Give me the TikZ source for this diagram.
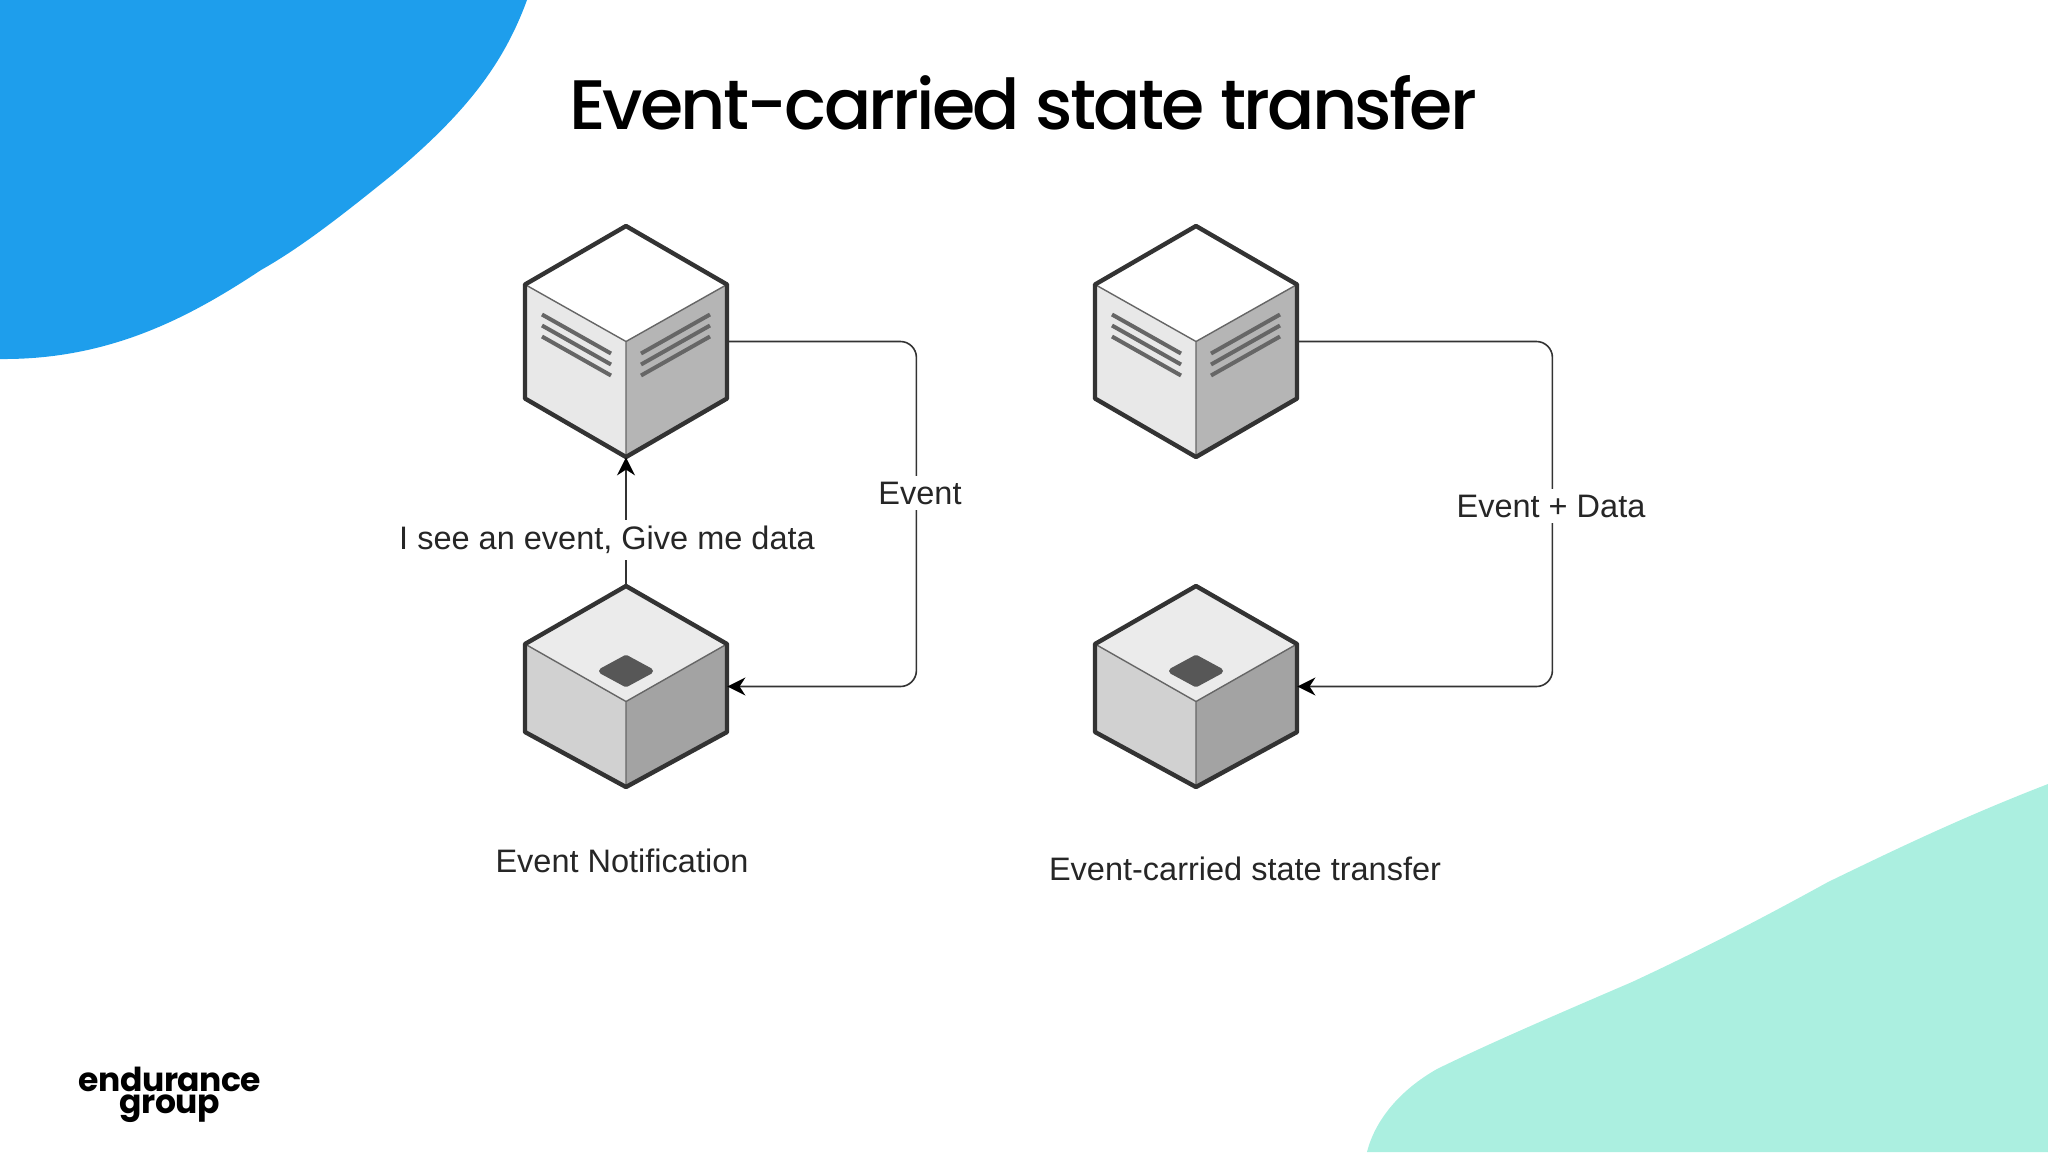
\documentclass[tikz,border=0pt]{standalone}
\usepackage{fontspec}
\setmainfont{Liberation Sans}
\newfontfamily\headfont{Poppins}[UprightFont=* Medium,LetterSpace=-4.0]
\newfontfamily\logofont{Poppins}[UprightFont=* Bold,LetterSpace=-1.5]
\usepackage{tikz}
\usetikzlibrary{positioning, arrows.meta}

\definecolor{blobblue}{HTML}{1E9EEC}
\definecolor{blobteal}{HTML}{ABEFE0}
\definecolor{edgedark}{HTML}{333333}
\definecolor{edgemid}{HTML}{666666}

\tikzset{
  cubebox/.style={minimum width=101pt,minimum height=115.5pt,inner sep=0pt},
  outline/.style={draw=edgedark,line width=2.2pt,line join=round},
  thinedge/.style={draw=edgemid,line width=0.7pt},
  vent/.style={draw=edgemid,line width=2pt},
  link/.style={draw=edgedark,line width=0.8pt,rounded corners=8pt},
  arrowlink/.style={link,-{Stealth[length=9pt,width=9pt,color=black]}},
  lbl/.style={font=\fontsize{16.25}{18}\selectfont,text=black!85,inner sep=1pt},
  lblfill/.style={lbl,fill=white,inner xsep=1pt,inner ysep=3pt},
  logotext/.style={font=\logofont\fontsize{16.5}{18}\selectfont,inner sep=0pt,anchor=base},
}

% server cube, #1 centre and #2 node name
\newcommand{\servercube}[2]{
  \node[cubebox] (#2) at (#1) {};
  \begin{scope}[shift={(#1)}]
    \fill[white] (-101,-57) -- (0,-115.5) -- (101,-57) -- (0,0) -- cycle;
    \fill[black!9] (-101,-57) -- (0,0) -- (0,115.5) -- (-101,57) -- cycle;
    \fill[black!29] (101,-57) -- (0,0) -- (0,115.5) -- (101,57) -- cycle;
    \draw[thinedge] (-101,-57) -- (0,0) -- (101,-57) (0,0) -- (0,115.5);
    \foreach \dy in {0,11,22} {
      \draw[vent] (-84,-27+\dy) -- (-15,12+\dy);
      \draw[vent] (84,-27+\dy) -- (15,12+\dy);
    }
    \draw[outline] (-101,-57) -- (0,-115.5) -- (101,-57) -- (101,57) -- (0,115.5) -- (-101,57) -- cycle;
  \end{scope}
}

% client cube, #1 centre and #2 node name
\newcommand{\clientcube}[2]{
  \node[cubebox,minimum height=100.5pt] (#2) at (#1) {};
  \begin{scope}[shift={(#1)}]
    \fill[black!8] (-101,-42.5) -- (0,-100.5) -- (101,-42.5) -- (0,15) -- cycle;
    \fill[black!18] (-101,-42.5) -- (0,15) -- (0,100.5) -- (-101,45.5) -- cycle;
    \fill[black!36] (101,-42.5) -- (0,15) -- (0,100.5) -- (101,45.5) -- cycle;
    \draw[thinedge] (-101,-42.5) -- (0,15) -- (101,-42.5) (0,15) -- (0,100.5);
    \fill[black!66,draw=black!66,line width=3pt,line join=round] (-24,-15.5) -- (0,-28.5) -- (24,-15.5) -- (0,-2.5) -- cycle;
    \draw[outline] (-101,-42.5) -- (0,-100.5) -- (101,-42.5) -- (101,45.5) -- (0,100.5) -- (-101,45.5) -- cycle;
  \end{scope}
}

\begin{document}
\begin{tikzpicture}[x=0.5pt,y=-0.5pt]
  \useasboundingbox (0,0) rectangle (2048,1152);

  % backdrop
  \fill[blobblue] (0,0) -- (527,0) .. controls (505,60) and (470,110) .. (392,175)
    .. controls (340,217) and (300,248) .. (261,270)
    .. controls (190,317) and (110,360) .. (0,359) -- cycle;
  \fill[blobteal] (2048,784) .. controls (1960,818) and (1890,852) .. (1828,882)
    .. controls (1750,925) and (1690,955) .. (1632,982)
    .. controls (1560,1013) and (1490,1043) .. (1437,1069)
    .. controls (1400,1090) and (1375,1120) .. (1367,1152)
    -- (2048,1152) -- cycle;

  \node[font=\headfont\fontsize{35}{40}\selectfont,inner sep=0pt] (title) at (1023,103) {Event-carried state transfer};

  % left pair
  \servercube{626,341.5}{s_0}
  \clientcube{626,686.5}{c_0}
  % right pair
  \servercube{1196,341.5}{s_1}
  \clientcube{1196,686.5}{c_1}

  \draw[arrowlink] (c_0.north) -- (s_0.south);
  \draw[arrowlink] (s_0.east) -- ++(189,0) -- ++(0,345) -- (c_0.east);
  \draw[arrowlink] (s_1.east) -- ++(255,0) -- ++(0,345) -- (c_1.east);

  \node[lblfill] (ask) at (607,540) {I see an event, Give me data};
  \node[lblfill] (ev) at (920,493) {Event};
  \node[lblfill] (evd) at (1551,506) {Event + Data};

  \node[lbl] (cap_0) at (622,861) {Event Notification};
  \node[lbl] (cap_1) at (1245,869) {Event-carried state transfer};

  \node[logotext] (logo_0) at (170,1091) {endurance};
  \node[logotext] (logo_1) at (170,1113) {group};
\end{tikzpicture}
\end{document}
